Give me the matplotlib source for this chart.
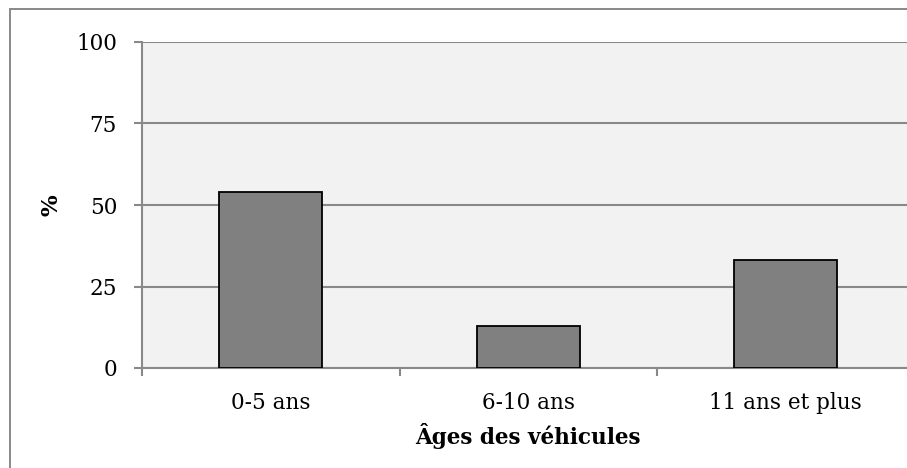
import matplotlib
matplotlib.use("Agg")
import matplotlib.pyplot as plt
from matplotlib.patches import Rectangle
from matplotlib.ticker import FixedLocator

categories = ["0-5 ans", "6-10 ans", "11 ans et plus"]
values = [54, 13, 33]
yticks = [0, 25, 50, 75, 100]

W, H = 907, 468
fig = plt.figure(figsize=(W / 100, H / 100), dpi=100)
plt.rcParams['font.family'] = ['DejaVu Serif']

grid_c = "#898989"
# figure border (partly cropped at right/bottom)
fig.patches.append(Rectangle((9.5 / W, -0.1), 1.2, (H - 8.5) / H + 0.1,
                             transform=fig.transFigure, fill=False,
                             edgecolor=grid_c, linewidth=1.4))

left, right, top, bottom = 142, 914.5, 42, 368
ax = fig.add_axes([left / W, (H - bottom) / H, (right - left) / W, (bottom - top) / H])
ax.set_facecolor("#f2f2f2")

x = list(range(len(categories)))
ax.bar(x, values, width=0.40, color="#808080", edgecolor="black", linewidth=1.3, zorder=3)

ax.set_xlim(-0.5, len(categories) - 0.5)
ax.set_ylim(0, 100)
ax.set_yticks(yticks)
ax.set_yticklabels([str(t) for t in yticks])
ax.set_xticks(x)
ax.set_xticklabels(categories)
ax.xaxis.set_minor_locator(FixedLocator([-0.5, 0.5, 1.5, 2.5]))

ax.grid(axis="y", color=grid_c, linewidth=1.5, zorder=1)
ax.set_axisbelow(True)
for s in ["top", "right"]:
    ax.spines[s].set_visible(False)
for s in ["left", "bottom"]:
    ax.spines[s].set_color(grid_c)
    ax.spines[s].set_linewidth(1.5)

fs = 15.5
ax.tick_params(axis="y", length=6, width=1.5, color=grid_c, pad=12, labelsize=fs)
ax.tick_params(axis="x", which="major", length=0, pad=17, labelsize=fs)
ax.tick_params(axis="x", which="minor", length=5.5, width=1.5, color=grid_c)

ax.set_ylabel("%", fontsize=fs + 1, fontweight="bold", labelpad=10)
ax.set_xlabel("Âges des véhicules", fontsize=fs, fontweight="bold", labelpad=7)

fig.savefig("out.png", dpi=100)
